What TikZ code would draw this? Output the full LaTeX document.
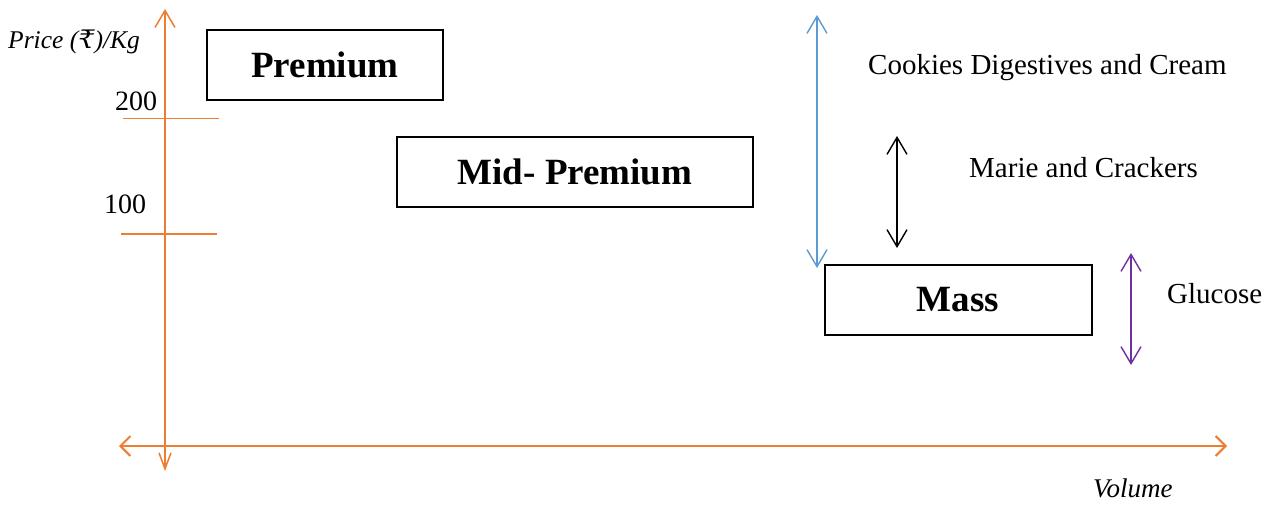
\documentclass[tikz,border=0pt]{standalone}
\usepackage{fontspec}
\setmainfont{Liberation Serif}
\usetikzlibrary{arrows.meta}
\definecolor{axisorange}{RGB}{237,125,49}
\definecolor{wblue}{RGB}{91,155,213}
\definecolor{wpurple}{RGB}{112,48,160}
\tikzset{
  catbox/.style={draw=black, line width=2pt, minimum width=#1, minimum height=70pt, inner sep=0pt, font=\fontsize{37}{44}\selectfont\bfseries},
  lbl/.style={anchor=base west, inner sep=0pt, font=\fontsize{29}{34}\selectfont},
  axlbl/.style={anchor=base west, inner sep=0pt, font=\fontsize{25.5}{30}\selectfont\itshape},
  vollbl/.style={anchor=base west, inner sep=0pt, font=\fontsize{27}{32}\selectfont\itshape},
  numlbl/.style={anchor=base west, inner sep=0pt, font=\fontsize{28}{32}\selectfont},
  dblarrow/.style={line width=1.4pt, {Straight Barb[length=17pt,width=20pt]}-{Straight Barb[length=17pt,width=20pt]}},
  axisline/.style={draw=axisorange, line width=1.5pt},
}
\begin{document}
\begin{tikzpicture}[x=1pt,y=-1pt]
\useasboundingbox (0,0) rectangle (1271,504);
% axes
\coordinate (ytop) at (165,9);
\coordinate (ybot) at (165,471);
\coordinate (xleft) at (119,446);
\coordinate (xright) at (1227,446);
\draw[axisline, {Straight Barb[length=17pt,width=20pt]}-{Straight Barb[length=16pt,width=12pt]}] (ytop) -- (ybot);
\draw[axisline, line width=2pt, {Straight Barb[length=10pt,width=20pt]}-{Straight Barb[length=10pt,width=20pt]}] (xleft) -- (xright);
% ticks
\coordinate (t2a) at (123,118.5);
\coordinate (t2b) at (219,118.5);
\coordinate (t1a) at (121,234);
\coordinate (t1b) at (217,234);
\draw[axisline] (t2a) -- (t2b);
\draw[axisline] (t1a) -- (t1b);
% axis labels
\node[axlbl] (price) at (8,48) {Price ({\fontspec{DejaVu Serif}\itshape ₹})/Kg};
\node[numlbl] (n200) at (115,110) {200};
\node[numlbl] (n100) at (104,213) {100};
\node[vollbl] (vol) at (1093,497) {Volume};
% boxes
\node[catbox=236pt] (prem) at (325,65) {Premium};
\node[catbox=356pt] (mid) at (575,171.5) {Mid- Premium};
\node[catbox=267pt] (mass) at (958,299.5) {Mass};
% range arrows
\coordinate (ba) at (817,15);
\coordinate (bb) at (817,268);
\draw[dblarrow, draw=wblue] (ba) -- (bb);
\coordinate (ka) at (897,136);
\coordinate (kb) at (897,248);
\draw[dblarrow, draw=black] (ka) -- (kb);
\coordinate (pa) at (1131,253);
\coordinate (pb) at (1131,365);
\draw[dblarrow, draw=wpurple] (pa) -- (pb);
% labels
\node[lbl] (cookies) at (868,74) {Cookies Digestives and Cream};
\node[lbl] (marie) at (969,177) {Marie and Crackers};
\node[lbl] (glucose) at (1167,303) {Glucose};
\end{tikzpicture}
\end{document}
